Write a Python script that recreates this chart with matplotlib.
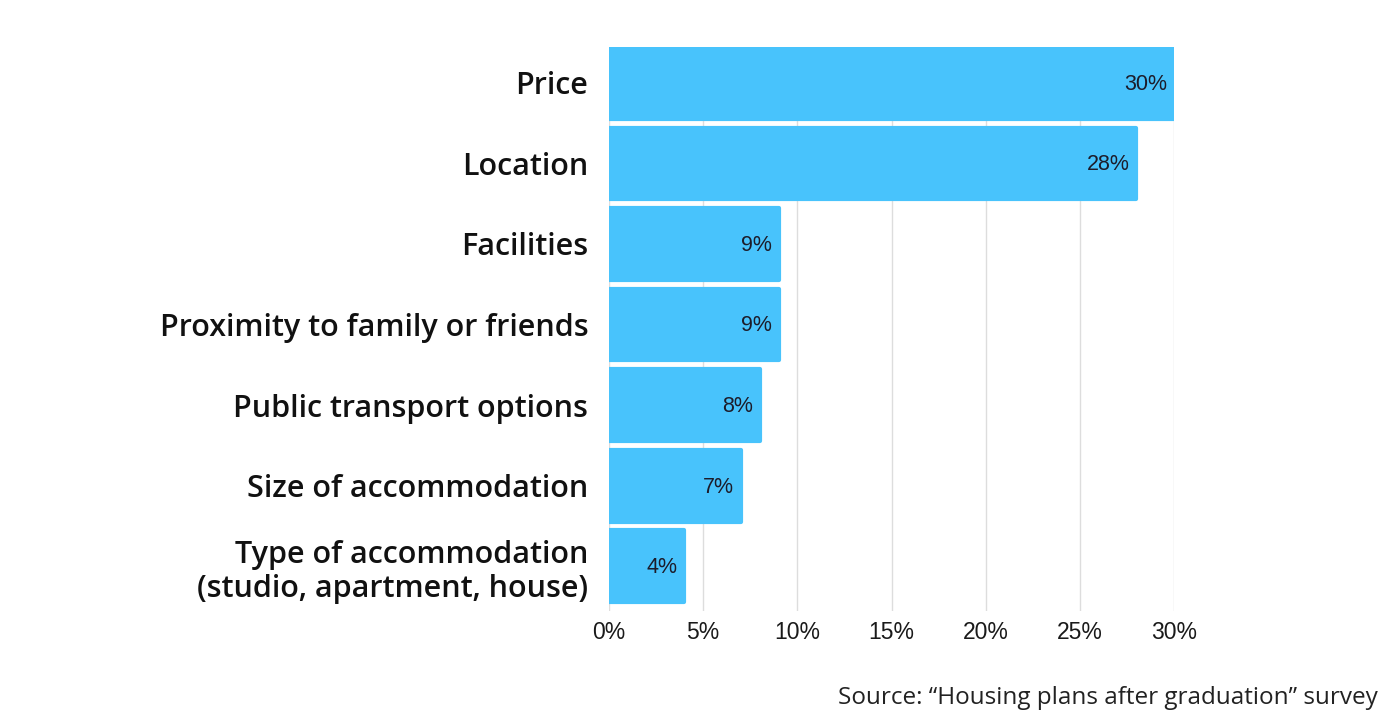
import matplotlib
matplotlib.use('Agg')
import matplotlib.pyplot as plt

categories = ['Price', 'Location', 'Facilities', 'Proximity to family or friends',
              'Public transport options', 'Size of accommodation',
              'Type of accommodation\n(studio, apartment, house)']
values = [30, 28, 9, 9, 8, 7, 4]
ticks = [0, 5, 10, 15, 20, 25, 30]

bar_color = '#48C3FC'

fig = plt.figure(figsize=(14, 7.23), dpi=100)
ax = fig.add_axes([0.435, 0.155, 0.4036, 0.78])

y = list(range(len(categories)))
bars = ax.barh(y, values, height=0.89, color=bar_color, edgecolor=bar_color,
               linewidth=3, zorder=3)
for b in bars:
    b.set_joinstyle('round')

ax.set_ylim(len(categories) - 0.445, -0.445)
ax.set_xlim(0, 30)
ax.set_xticks(ticks)
ax.set_xticklabels([f'{t}%' for t in ticks], family='Liberation Sans', fontsize=16.5, color='#1a1a1a')
ax.set_yticks(y)
ax.set_yticklabels(categories, family='Open Sans', fontweight='semibold', fontsize=22,
                   color='#111111', linespacing=1.2)
ax.tick_params(axis='both', length=0)
ax.tick_params(axis='y', pad=15)
ax.tick_params(axis='x', pad=7)

ax.grid(axis='x', color='#dddddd', linewidth=1, zorder=0)
ax.set_axisbelow(True)
for s in ax.spines.values():
    s.set_visible(False)

# value labels, right aligned inside the bar end
for yi, v in zip(y, values):
    ax.annotate(f'{v}%', xy=(v, yi), xytext=(-5, -1), textcoords='offset points',
                ha='right', va='center', family='Liberation Sans', fontsize=15.5,
                color='#1c1c2a', zorder=4)

fig.text(0.984, 0.035, 'Source: \u201cHousing plans after graduation\u201d survey',
         ha='right', va='center', family='Open Sans', fontsize=17.5, color='#222222')

fig.savefig('out.png', dpi=100, facecolor='white')
